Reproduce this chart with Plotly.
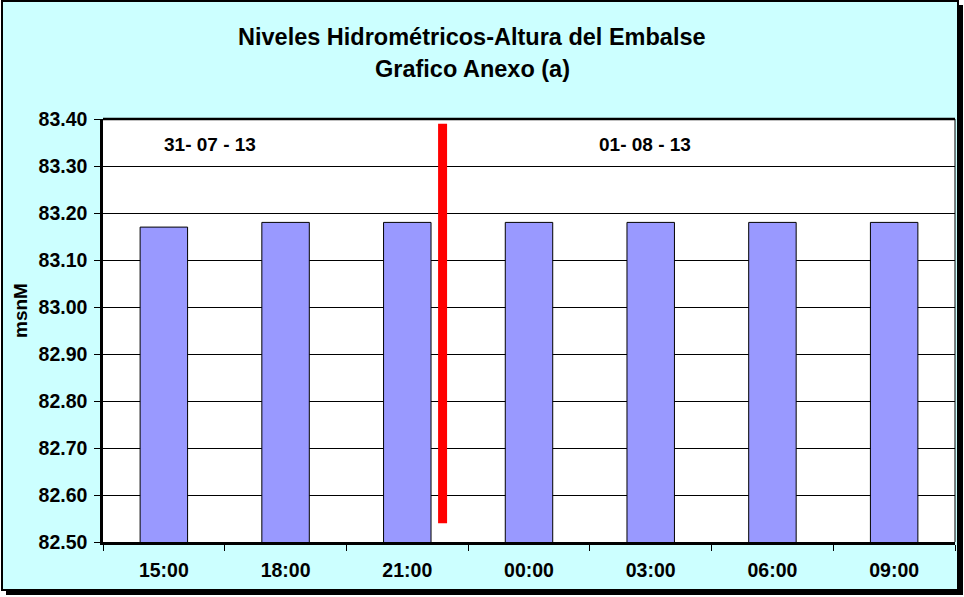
import plotly.graph_objects as go

categories = ["15:00", "18:00", "21:00", "00:00", "03:00", "06:00", "09:00"]
levels = [83.17, 83.18, 83.18, 83.18, 83.18, 83.18, 83.18]
y_ticks = [82.50, 82.60, 82.70, 82.80, 82.90, 83.00, 83.10, 83.20, 83.30, 83.40]
date_labels = ["31- 07 - 13", "01- 08 - 13"]

W, H = 964, 597
L, R, T, B = 103, 955, 119, 542

def px(x):
    return (x - L) / (R - L)

def py(y):
    return (B - y) / (B - T)

FONT = "Liberation Sans, Arial, sans-serif"

fig = go.Figure()
fig.add_trace(go.Bar(
    x=categories, y=levels,
    marker=dict(color="#9999FF", line=dict(color="black", width=1)),
    hoverinfo="x+y",
))

shapes = [
    dict(type="rect", xref="paper", yref="paper", x0=px(6), x1=px(963), y0=py(595), y1=py(5),
         fillcolor="black", line=dict(width=0), layer="below"),
    dict(type="rect", xref="paper", yref="paper", x0=px(2), x1=px(958), y0=py(590), y1=py(1),
         fillcolor="#CCFFFF", line=dict(color="black", width=2), layer="below"),
    dict(type="rect", xref="paper", yref="paper", x0=0, x1=1, y0=0, y1=1,
         fillcolor="white", line=dict(width=0), layer="below"),
    dict(type="line", xref="paper", yref="paper", x0=0, x1=1, y0=1, y1=1,
         line=dict(color="black", width=2.5)),
    dict(type="line", xref="paper", yref="paper", x0=1, x1=1, y0=0, y1=1,
         line=dict(color="black", width=1)),
    dict(type="line", xref="x", yref="y", x0=2.29, x1=2.29, y0=82.54, y1=83.39,
         line=dict(color="#FF0000", width=9)),
]

def ann(text, x, y, size, xref="paper", yref="paper", angle=0):
    return dict(text="<b>" + text + "</b>", xref=xref, yref=yref, x=x, y=y,
                xanchor="center", yanchor="middle", textangle=angle, showarrow=False,
                font=dict(size=size, color="black", family=FONT))

annotations = [
    ann("Niveles Hidrométricos-Altura del Embalse", px(472), py(37), 23.5),
    ann("Grafico Anexo (a)", px(472), py(69), 23.5),
    ann(date_labels[0], 0.38, 83.345, 19, "x", "y"),
    ann(date_labels[1], 3.95, 83.345, 19, "x", "y"),
    ann("msnM", px(20), py(311), 19, angle=-90),
]

fig.update_layout(
    width=W, height=H,
    margin=dict(l=L, r=W - R, t=T, b=H - B, pad=0),
    paper_bgcolor="white",
    plot_bgcolor="white",
    bargap=0.61,
    showlegend=False,
    shapes=shapes,
    annotations=annotations,
    font=dict(family=FONT, color="black"),
)
fig.update_xaxes(
    type="category", range=[-0.5, 6.5],
    showline=True, linecolor="black", linewidth=2.5,
    ticks="outside", ticklen=6, tickcolor="black", tickwidth=1, tickson="boundaries",
    showgrid=False, tickfont=dict(size=19.5, family=FONT, color="black", weight="bold"),
    ticklabelstandoff=9,
)
fig.update_yaxes(
    range=[82.5, 83.4], tickvals=y_ticks, ticktext=[f"{v:.2f}" for v in y_ticks],
    showline=True, linecolor="black", linewidth=2.5,
    ticks="outside", ticklen=6, tickcolor="black", tickwidth=1,
    showgrid=True, gridcolor="black", gridwidth=1, zeroline=False,
    tickfont=dict(size=19.5, family=FONT, color="black", weight="bold"),
    ticklabelstandoff=3,
)

fig.write_html("out.html", config={"displayModeBar": False},
               post_script="document.body.style.margin='0';document.body.style.overflow='hidden';")
